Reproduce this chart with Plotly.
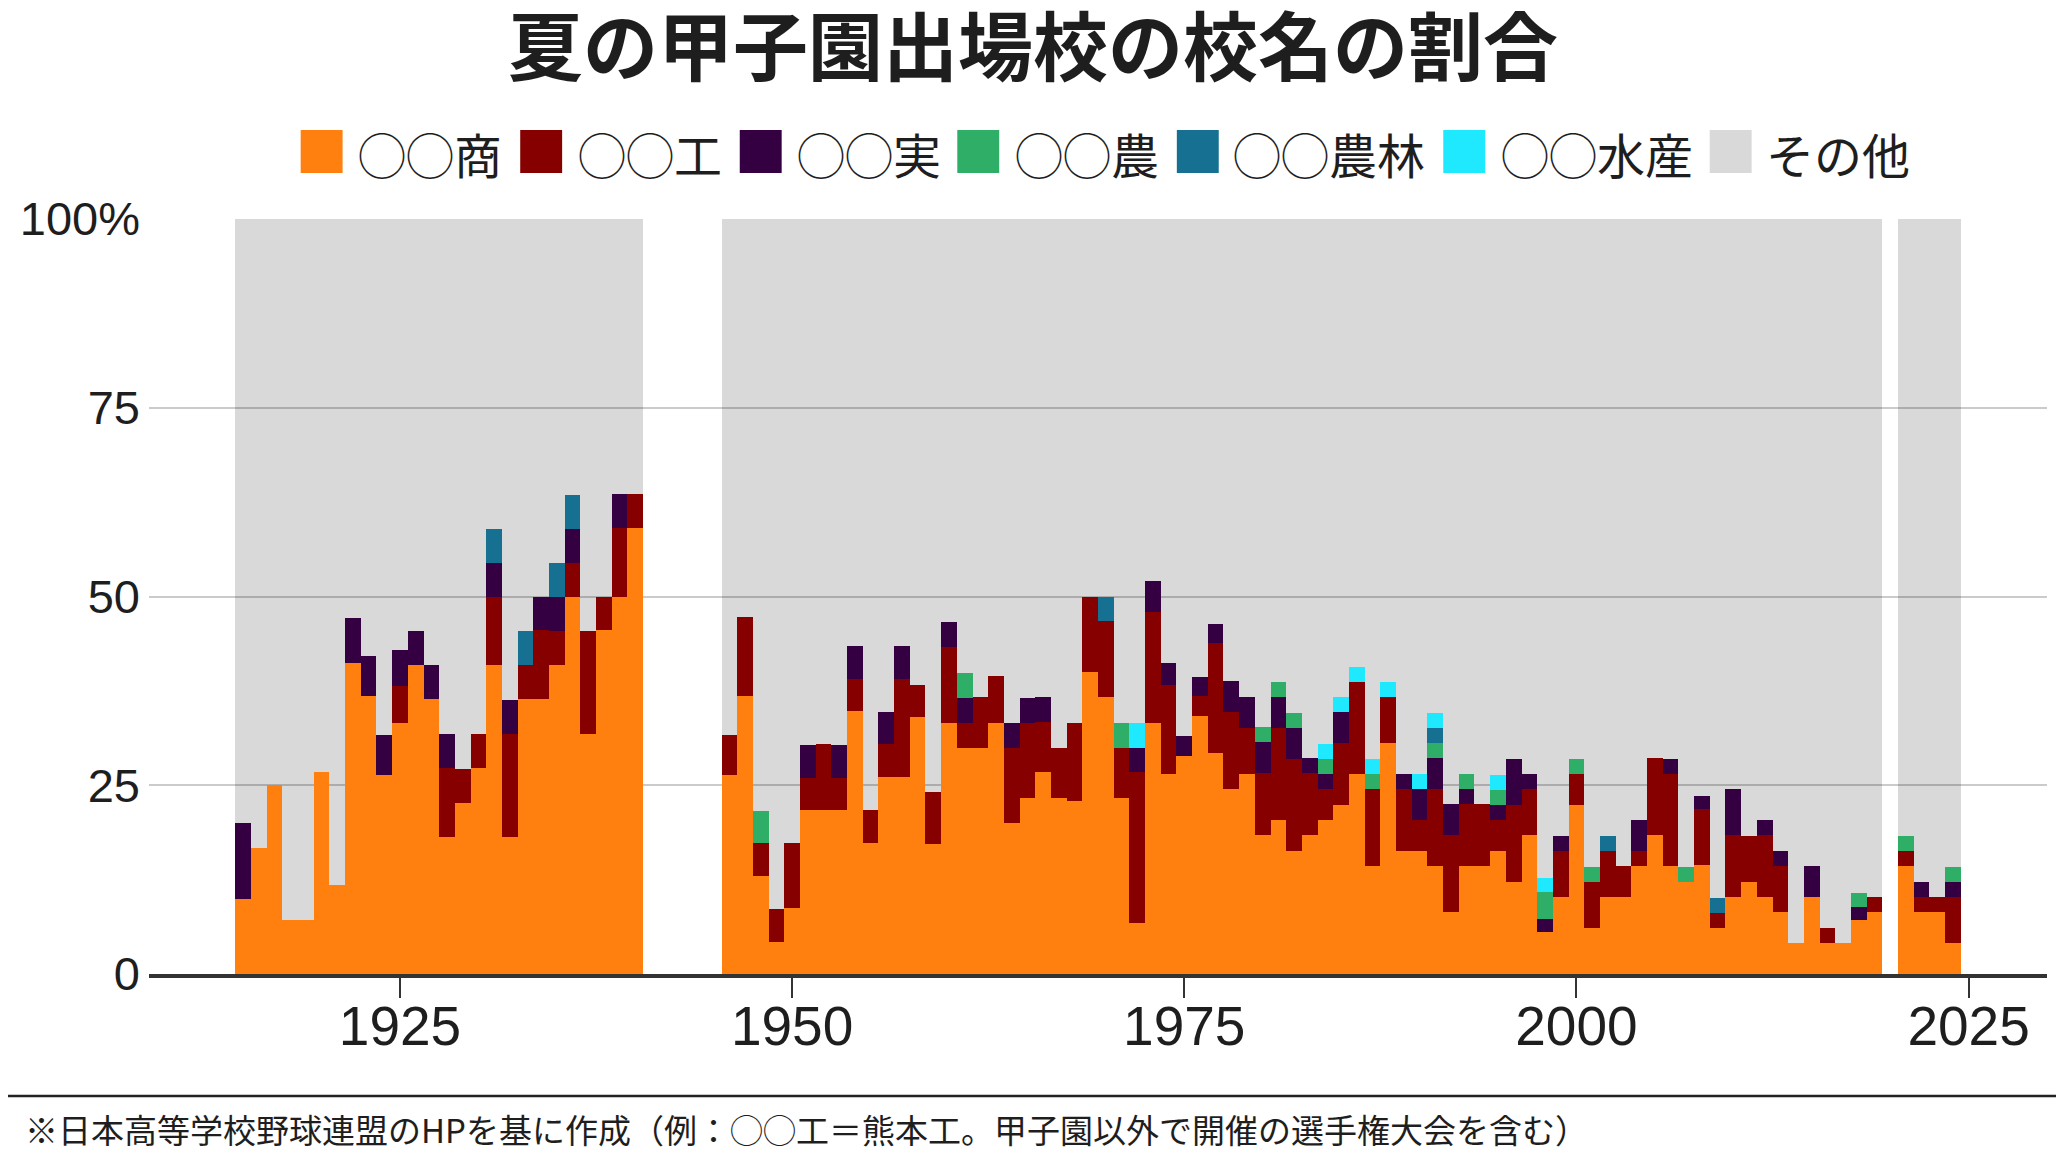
import plotly.graph_objects as go

# ---------------- data ----------------
years_prewar = list(range(1915, 1941))
years_postwar = list(range(1946, 2020))
years_recent = list(range(2021, 2025))
years = years_prewar + years_postwar + years_recent

categories = ["◯◯商", "◯◯工", "◯◯実", "◯◯農", "◯◯農林", "◯◯水産", "その他"]

# ◯◯商 (%)
shou = [
    10.0, 16.7, 25.0, 7.1, 7.1, 26.7, 11.8, 41.2, 36.8, 26.3, 33.3, 40.9, 36.4,
    18.2, 22.7, 27.3, 40.9, 18.2, 36.4, 36.4, 40.9, 50.0, 31.8, 45.5, 50.0, 59.1,
    26.3, 36.8, 13.0, 4.3, 8.7, 21.7, 21.7, 21.7, 34.8, 17.4, 26.1, 26.1, 34.0,
    17.2, 33.3, 30.0, 30.0, 33.3, 20.0, 23.3, 26.7, 23.3, 22.9, 40.0, 36.7, 23.3,
    6.7, 33.3, 26.5, 28.9, 34.2, 29.3, 24.5, 26.5, 18.4, 20.4, 16.3, 18.4, 20.4,
    22.4, 26.5, 14.3, 30.6, 16.3, 16.3, 14.3, 8.2, 14.3, 14.3, 16.3, 12.2, 18.4,
    5.5, 10.2, 22.4, 6.1, 10.2, 10.2, 14.3, 18.4, 14.3, 12.2, 14.5, 6.1, 10.2,
    12.2, 10.2, 8.2, 4.1, 10.2, 4.1, 4.1, 7.1, 8.2,
    14.3, 8.2, 8.2, 4.1,
]
# ◯◯工 (%)
kou = [
    0, 0, 0, 0, 0, 0, 0, 0, 0, 0, 4.8, 0, 0,
    9.1, 4.5, 4.5, 9.1, 13.6, 4.5, 9.1, 4.5, 4.5, 13.6, 4.5, 9.1, 4.5,
    5.3, 10.5, 4.3, 4.3, 8.7, 4.3, 8.7, 4.3, 4.3, 4.3, 4.3, 13.0, 4.3,
    6.9, 10.0, 3.3, 6.7, 6.2, 10.0, 10.0, 6.7, 6.7, 10.4, 10.0, 10.0, 6.7,
    20.0, 14.6, 11.8, 0, 2.6, 14.6, 10.2, 6.1, 8.2, 12.2, 12.2, 8.2, 4.1,
    8.2, 12.2, 10.2, 6.1, 8.2, 4.1, 10.2, 10.2, 8.2, 8.2, 4.1, 10.2, 6.1,
    0, 6.1, 4.1, 6.1, 6.1, 4.1, 2.0, 10.2, 12.2, 0, 7.3, 2.0, 8.2,
    6.1, 8.2, 6.1, 0, 0, 2.0, 0, 0, 2.0,
    2.0, 2.0, 2.0, 6.1,
]
# ◯◯実 (%)
jitsu = [
    10.0, 0, 0, 0, 0, 0, 0, 5.9, 5.3, 5.3, 4.8, 4.5, 4.5,
    4.5, 0, 0, 4.5, 4.5, 0, 4.5, 4.5, 4.5, 0, 0, 4.5, 0,
    0, 0, 0, 0, 0, 4.3, 0, 4.3, 4.3, 0, 4.3, 4.3, 0,
    0, 3.3, 3.3, 0, 0, 3.3, 3.3, 3.3, 0, 0, 0, 0, 0,
    3.3, 4.2, 2.9, 2.6, 2.6, 2.4, 4.1, 4.1, 4.1, 4.1, 4.1, 2.0, 2.0,
    4.1, 0, 0, 0, 2.0, 4.1, 4.1, 4.1, 2.0, 0, 2.0, 6.1, 2.0,
    1.8, 2.0, 0, 0, 0, 0, 4.1, 0, 2.0, 0, 1.8, 0, 6.1,
    0, 2.0, 2.0, 0, 4.1, 0, 0, 1.8, 0,
    0, 2.0, 0, 2.0,
]
# sparse categories: (year, %)
nou_years = [1948, 1961, 1971, 1980, 1981, 1982, 1984, 1987, 1991, 1993, 1995,
             1998, 2000, 2001, 2007, 2018, 2021, 2024]
nou = [4.3, 3.3, 3.3, 2.0, 2.0, 2.0, 2.0, 2.0, 2.0, 2.0, 2.0,
       3.6, 2.0, 2.0, 2.0, 1.8, 2.0, 2.0]
nourin_years = [1931, 1933, 1935, 1936, 1970, 1991, 2002, 2009]
nourin = [4.5, 4.5, 4.5, 4.5, 3.3, 2.0, 2.0, 2.0]
suisan_years = [1972, 1984, 1985, 1986, 1987, 1988, 1990, 1991, 1995, 1998]
suisan = [3.3, 2.0, 2.0, 2.0, 2.0, 2.0, 2.0, 2.0, 2.0, 1.8]
# その他 (%)
other = [
    80.0, 83.3, 75.0, 92.9, 92.9, 73.3, 88.2, 52.9, 57.9, 68.4, 57.1, 54.6, 59.1,
    68.2, 72.8, 68.2, 41.0, 63.7, 54.6, 50.0, 45.6, 36.5, 54.6, 50.0, 36.4, 36.4,
    68.4, 52.7, 78.4, 91.4, 82.6, 69.7, 69.6, 69.7, 56.6, 78.3, 65.3, 56.6, 61.7,
    75.9, 53.4, 60.1, 63.3, 60.5, 66.7, 63.4, 63.3, 70.0, 66.7, 50.0, 50.0, 66.7,
    66.7, 47.9, 58.8, 68.5, 60.6, 53.7, 61.2, 63.3, 67.3, 61.3, 65.4, 71.4, 69.5,
    63.3, 59.3, 71.5, 61.3, 73.5, 73.5, 65.4, 77.5, 73.5, 77.5, 73.6, 71.5, 73.5,
    87.3, 81.7, 71.5, 85.8, 81.7, 85.7, 79.6, 71.4, 71.5, 85.8, 76.4, 89.9, 75.5,
    81.7, 79.6, 83.7, 95.9, 85.7, 93.9, 95.9, 89.3, 89.8,
    81.7, 87.8, 89.8, 85.8,
]

y_tickvals = [0, 25, 50, 75, 100]
y_ticktext = ["0", "25", "50", "75", "100%"]
x_tickvals = [1925, 1950, 1975, 2000, 2025]

# ---------------- style / layout ----------------
colors = ["#ff800e", "#870000", "#350041", "#2eae67", "#167091", "#1ee9ff", "#d9d9d9"]
other_fill = "rgba(0,0,0,0.15)"
CJK = "Noto Sans CJK JP, sans-serif"
NUM = "Liberation Sans, Arial, sans-serif"
TXT = "#1e1e1e"

# the page body adds an 8px margin; lay out in screen pixels and compensate
OFF = 8
SCREEN_W, SCREEN_H = 2064, 1162
W, H = SCREEN_W - OFF, SCREEN_H - OFF
PLOT_LEFT, PLOT_RIGHT, PLOT_TOP, PLOT_BOTTOM = 145, 2047, 219, 974   # screen px
L = PLOT_LEFT - OFF
T = PLOT_TOP - OFF
R = W - (PLOT_RIGHT - OFF)
B = H - (PLOT_BOTTOM - OFF)
PW, PH = PLOT_RIGHT - PLOT_LEFT, PLOT_BOTTOM - PLOT_TOP


def px_x(px):
    return (px - PLOT_LEFT) / PW


def px_y(py):
    return (PLOT_BOTTOM - py) / PH


series = [
    (years, shou, colors[0]),
    (years, kou, colors[1]),
    (years, jitsu, colors[2]),
    (nou_years, nou, colors[3]),
    (nourin_years, nourin, colors[4]),
    (suisan_years, suisan, colors[5]),
    (years, other, other_fill),
]

fig = go.Figure()
for name, (xs, ys, col) in zip(categories, series):
    fig.add_trace(go.Bar(
        x=xs, y=ys, name=name, width=1,
        marker=dict(color=col, line=dict(width=0)),
        showlegend=False,
    ))

# custom legend (large square swatches)
legend_swatch_left = [297, 517, 737, 955, 1175, 1442, 1709]
legend_text_left = [352, 573, 792, 1011, 1229, 1498, 1763]
shapes = []
annotations = []
for name, col, sx, tx in zip(categories, colors, legend_swatch_left, legend_text_left):
    shapes.append(dict(type="rect", xref="paper", yref="paper",
                       x0=px_x(sx), x1=px_x(sx + 42), y0=px_y(173), y1=px_y(130),
                       fillcolor=col, line=dict(width=0)))
    annotations.append(dict(text=name, xref="paper", yref="paper",
                            x=px_x(tx), y=px_y(153), xanchor="left", yanchor="middle",
                            showarrow=False, font=dict(family=CJK, size=48, color=TXT)))

# footer rule and note
shapes.append(dict(type="line", xref="paper", yref="paper",
                   x0=px_x(0), x1=px_x(SCREEN_W), y0=px_y(1096), y1=px_y(1096),
                   line=dict(color="#222222", width=2.5)))
annotations.append(dict(
    text="※日本高等学校野球連盟のHPを基に作成（例：◯◯工＝熊本工。甲子園以外で開催の選手権大会を含む）",
    xref="paper", yref="paper", x=px_x(19), y=px_y(1129),
    xanchor="left", yanchor="middle", showarrow=False,
    font=dict(family=CJK, size=33, color=TXT)))

fig.update_layout(
    width=W, height=H,
    margin=dict(l=L, r=R, t=T, b=B, pad=0),
    paper_bgcolor="white", plot_bgcolor="white",
    barmode="stack", bargap=0,
    title=dict(text="夏の甲子園出場校の校名の割合",
               x=(1033 - OFF) / W, xanchor="center", xref="container",
               y=1 - (49 - OFF) / H, yanchor="middle", yref="container",
               font=dict(family=CJK, size=75, color=TXT, weight="bold")),
    xaxis=dict(range=[1909, 2030], tickvals=x_tickvals,
               ticks="outside", ticklen=20, tickwidth=2, tickcolor="#333333",
               showline=True, linewidth=4, linecolor="#333333",
               showgrid=False, zeroline=False,
               tickfont=dict(family=NUM, size=55, color=TXT),
               ticklabelstandoff=-19),
    yaxis=dict(range=[0, 100], tickvals=y_tickvals, ticktext=y_ticktext,
               ticks="", showgrid=True, gridcolor="#cbcbcb", gridwidth=2,
               zeroline=False, showline=False,
               tickfont=dict(family=NUM, size=47, color=TXT),
               ticklabelstandoff=8),
    shapes=shapes,
    annotations=annotations,
    hovermode=False,
)

fig.write_html("out.html")
